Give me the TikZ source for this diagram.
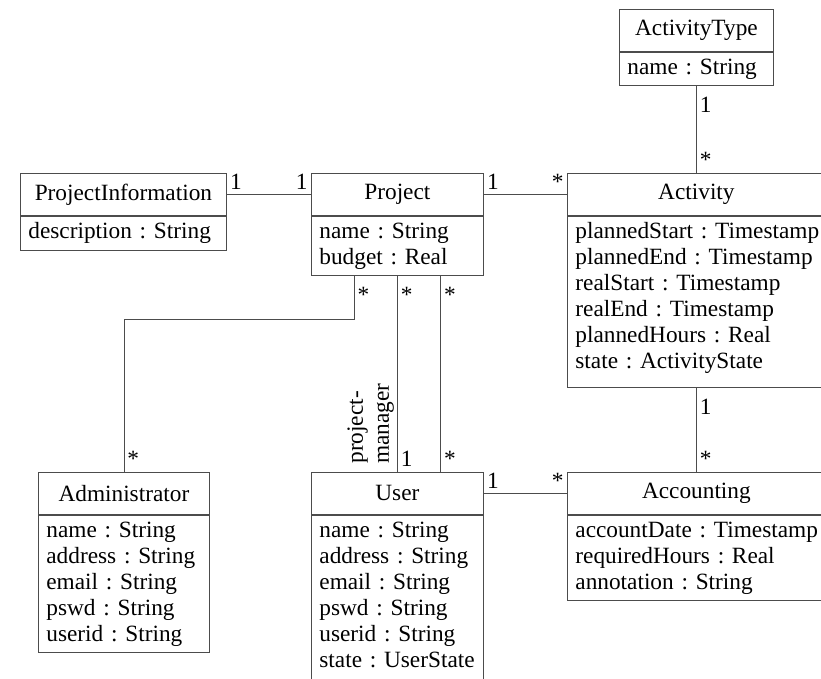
\documentclass[tikz,border=0pt]{standalone}
\usepackage{fontspec}
\setmainfont{Liberation Serif}
\usetikzlibrary{positioning,calc}

\newcommand{\umlfont}{\fontsize{23.3}{26}\selectfont\hyphenpenalty=10000\exhyphenpenalty=10000}
\frenchspacing
\hyphenpenalty=10000
\exhyphenpenalty=10000
\hbadness=10000
\hfuzz=30pt

\tikzset{
  umlhead/.style={draw=black!70, line width=0.8pt, anchor=north west,
    minimum width=#1, minimum height=42pt, inner sep=0pt},
  umlattr/.style={draw=black!70, line width=0.8pt, anchor=north west,
    align=left, text width=#1, inner xsep=8pt, inner ysep=6.5pt},
  assoc/.style={draw=black!70, line width=0.8pt},
  lower/.style={yshift=-6pt}
}

\begin{document}
\begin{tikzpicture}[x=1pt,y=-1pt]
  \useasboundingbox (0,0) rectangle (821,678);

  \begin{scope}[every node/.style={font=\umlfont}]
    \node[umlhead=154pt] (atype) at (619,9) {ActivityType};
    \node[umlattr=138pt] (atypeattr) at (atype.south west) {name~:~String};

    \node[umlhead=206pt] (pinfo) at (20,173) {ProjectInformation};
    \node[umlattr=190pt] (pinfoattr) at (pinfo.south west) {description~:~String};

    \node[umlhead=172pt] (proj) at (311,173) {Project};
    \node[umlattr=156pt] (projattr) at (proj.south west) {name~:~String\\budget~:~Real};

    \node[umlhead=258pt] (act) at (567,173) {Activity};
    \node[umlattr=242pt, text depth=142pt] (actattr) at (act.south west)
      {plannedStart~:~Timestamp\\plannedEnd~:~Timestamp\\realStart~:~Timestamp\\realEnd~:~Timestamp\\plannedHours~:~Real\\state~:~ActivityState};

    \node[umlhead=171pt] (adm) at (38,472) {Administrator};
    \node[umlattr=155pt] (admattr) at (adm.south west)
      {name~:~String\\address~:~String\\email~:~String\\pswd~:~String\\userid~:~String};

    \node[umlhead=172pt] (user) at (311,472) {User};
    \node[umlattr=156pt, text depth=148pt] (userattr) at (user.south west)
      {name~:~String\\address~:~String\\email~:~String\\pswd~:~String\\userid~:~String\\state~:~UserState};

    \node[umlhead=258pt] (acc) at (567,472) {Accounting};
    \node[umlattr=242pt] (accattr) at (acc.south west)
      {accountDate~:~Timestamp\\requiredHours~:~Real\\annotation~:~String};
  \end{scope}

  \coordinate (pq1) at ($(projattr.south west)!0.25!(projattr.south east)$);
  \coordinate (pq3) at ($(projattr.south west)!0.75!(projattr.south east)$);

  \begin{scope}[every node/.style={font=\umlfont, inner xsep=3pt, inner ysep=5pt}]
    \draw[assoc] (pinfo) -- (proj)
      node[pos=0, above right] (m1) {1} node[pos=1, above left] (m2) {1};
    \draw[assoc] (proj) -- (act)
      node[pos=0, above right] (m3) {1} node[pos=1, above left] (m4) {*};
    \draw[assoc] (atypeattr) -- (act)
      node[pos=0, below right, lower] (m5) {1} node[pos=1, above right] (m6) {*};
    \draw[assoc] (actattr) -- (acc)
      node[pos=0, below right, lower] (m7) {1} node[pos=1, above right] (m8) {*};
    \draw[assoc] (user) -- (acc)
      node[pos=0, above right] (m9) {1} node[pos=1, above left] (m10) {*};

    \draw[assoc] (pq1) node[below right, lower] (m11) {*}
      -- ++(0,43) -| (adm.north) node[above right] (m12) {*};
    \draw[assoc] (projattr.south) node[below right, lower] (m13) {*}
      -- (projattr.south |- user.north) node[above right] (m14) {1}
      node[rotate=90, anchor=south west, align=left, inner xsep=8pt, inner ysep=3pt] (role) {project-\\manager};
    \draw[assoc] (pq3) node[below right, lower] (m15) {*}
      -- (pq3 |- user.north) node[above right] (m16) {*};
  \end{scope}

\end{tikzpicture}
\end{document}
